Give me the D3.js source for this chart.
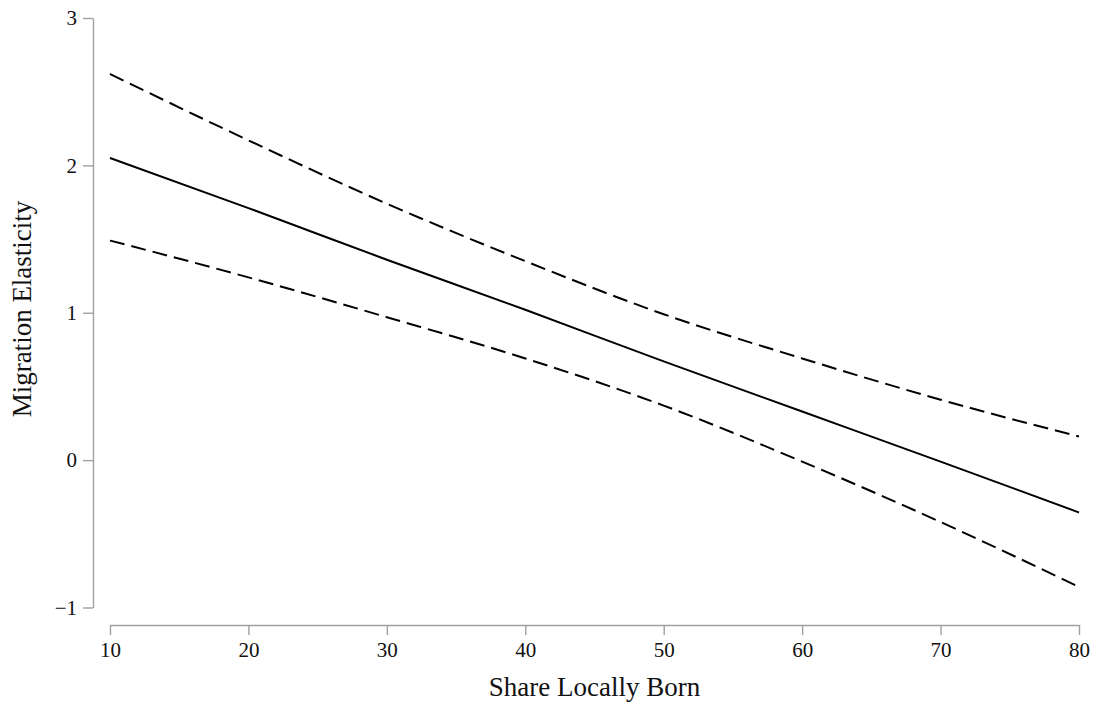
<!DOCTYPE html>
<html>
<head>
<meta charset="utf-8">
<script src="https://cdn.jsdelivr.net/npm/d3@7"></script>
<style>
  body { margin: 0; background: #fff; }
  .axis path, .axis line { stroke: #a0a0a0; stroke-width: 1.4; }
  .axis text { font-family: "Liberation Serif", "Times New Roman", serif; font-size: 21px; fill: #111; }
  .title { font-family: "Liberation Serif", "Times New Roman", serif; font-size: 27px; fill: #111; }
</style>
</head>
<body>
<svg id="chart"></svg>
<script>
// values
let shareBorn = [10, 20, 30, 40, 50, 60, 70, 80];
let estimate = [2.05, 1.71, 1.36, 1.02, 0.67, 0.33, -0.01, -0.355];
let upperCI = [2.62, 2.17, 1.74, 1.35, 0.99, 0.69, 0.41, 0.16];
let lowerCI = [1.49, 1.24, 0.97, 0.69, 0.37, -0.01, -0.42, -0.86];
let xTicks = [10, 20, 30, 40, 50, 60, 70, 80];
let yTicks = [-1, 0, 1, 2, 3];

let config = { svg: {}, plot: {} };
config.svg.width = 1098;
config.svg.height = 703;
config.plot.left = 110;
config.plot.right = 1079;
config.plot.top = 18;
config.plot.bottom = 607.5;

let svg = d3.select("svg#chart")
  .attr("width", config.svg.width)
  .attr("height", config.svg.height);

let scale = {};
scale.x = d3.scaleLinear().domain([10, 80]).range([config.plot.left, config.plot.right]);
scale.y = d3.scaleLinear().domain([-1, 3]).range([config.plot.bottom, config.plot.top]);

let axis = {};
axis.x = d3.axisBottom(scale.x).tickValues(xTicks).tickSize(10).tickSizeOuter(0).tickPadding(7);
axis.y = d3.axisLeft(scale.y).tickValues(yTicks).tickSize(10).tickSizeOuter(0).tickPadding(6)
  .tickFormat(d => d < 0 ? "\u2212" + Math.abs(d) : d);

svg.append("g")
  .attr("class", "axis")
  .attr("transform", translate(0, 625))
  .call(axis.x);

svg.append("g")
  .attr("class", "axis")
  .attr("transform", translate(93, 0))
  .call(axis.y);

let rows = shareBorn.map((x, i) => ({ x: x, est: estimate[i], hi: upperCI[i], lo: lowerCI[i] }));

function makeLine(key) {
  return d3.line()
    .x(d => scale.x(d.x))
    .y(d => scale.y(d[key]))
    .curve(d3.curveMonotoneX);
}

svg.append("path")
  .datum(rows)
  .attr("d", makeLine("hi"))
  .attr("fill", "none")
  .attr("stroke", "#000")
  .attr("stroke-width", 2)
  .attr("stroke-dasharray", "15,7");

svg.append("path")
  .datum(rows)
  .attr("d", makeLine("lo"))
  .attr("fill", "none")
  .attr("stroke", "#000")
  .attr("stroke-width", 2)
  .attr("stroke-dasharray", "15,7");

svg.append("path")
  .datum(rows)
  .attr("d", makeLine("est"))
  .attr("fill", "none")
  .attr("stroke", "#000")
  .attr("stroke-width", 2);

svg.append("text")
  .attr("class", "title")
  .attr("x", (config.plot.left + config.plot.right) / 2)
  .attr("y", 696)
  .attr("text-anchor", "middle")
  .text("Share Locally Born");

svg.append("text")
  .attr("class", "title")
  .attr("transform", translate(31, 309) + " rotate(-90)")
  .attr("text-anchor", "middle")
  .text("Migration Elasticity");

function translate(x, y) {
  return "translate(" + x + "," + y + ")";
}
</script>
</body>
</html>
